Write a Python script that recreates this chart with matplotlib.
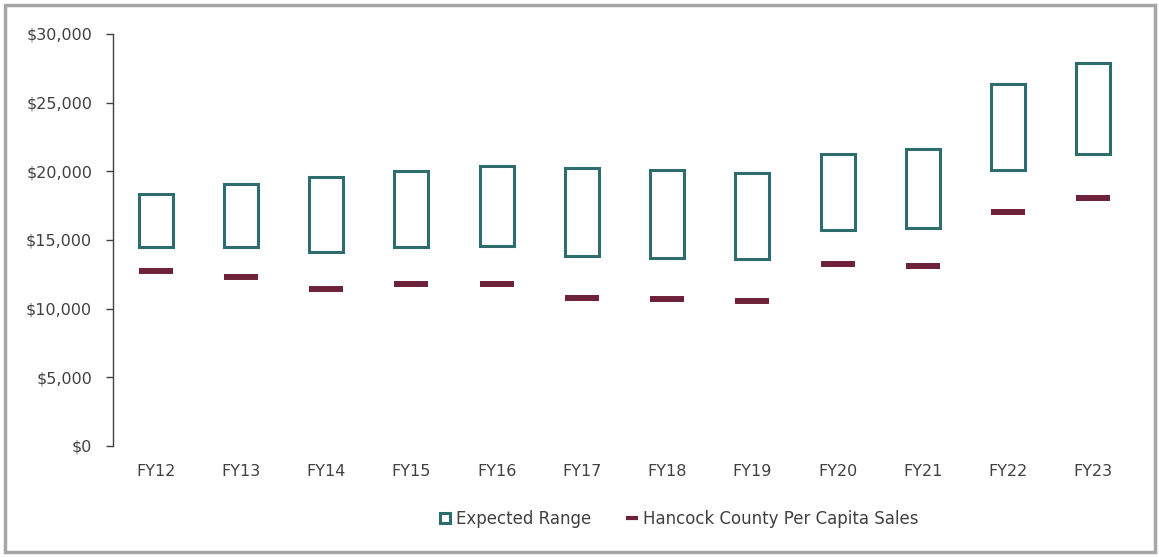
import matplotlib
matplotlib.use("Agg")
import matplotlib.pyplot as plt
from matplotlib.lines import Line2D
from matplotlib.patches import Rectangle
from matplotlib.ticker import FuncFormatter, MultipleLocator

categories = ["FY12", "FY13", "FY14", "FY15", "FY16", "FY17",
              "FY18", "FY19", "FY20", "FY21", "FY22", "FY23"]
range_low = [14480, 14480, 14120, 14480, 14580, 13830,
             13710, 13590, 15750, 15840, 20090, 21230]
range_high = [18340, 19090, 19580, 19990, 20380, 20260,
              20090, 19850, 21250, 21640, 26350, 27900]
county_sales = [12740, 12320, 11450, 11810, 11810, 10790,
                10680, 10550, 13220, 13100, 17050, 18050]

teal = "#2e6d6d"
maroon = "#6e2239"
txt = "#404040"

plt.rcParams['font.family'] = ['DejaVu Sans']

fig = plt.figure(figsize=(11.59, 5.57), dpi=100)
W, H = 1159, 557
ax = fig.add_axes([113 / W, 1 - 446 / H, (1136 - 113) / W, (446 - 34) / H])

x = list(range(len(categories)))
heights = [h - l for h, l in zip(range_high, range_low)]
ax.bar(x, heights, bottom=range_low, width=0.4, fill=False,
       edgecolor=teal, linewidth=2.2, zorder=3)
ax.hlines(county_sales, [i - 0.2 for i in x], [i + 0.2 for i in x],
          colors=maroon, linewidth=4.3, capstyle='butt', zorder=3)

ax.set_xlim(-0.5, len(categories) - 0.5)
ax.set_ylim(0, 30000)
ax.yaxis.set_major_locator(MultipleLocator(5000))
ax.yaxis.set_major_formatter(FuncFormatter(lambda v, p: f"${v:,.0f}"))
ax.set_xticks(x)
ax.set_xticklabels(categories)

for s in ["top", "right", "bottom"]:
    ax.spines[s].set_visible(False)
ax.spines["left"].set_color("#404040")
ax.spines["left"].set_linewidth(1.0)
ax.tick_params(axis="y", length=5, width=1.0, color="#404040",
               labelsize=11.5, labelcolor=txt, pad=10)
ax.tick_params(axis="x", length=0, labelsize=11.5, labelcolor=txt, pad=13)

handles = [
    Line2D([0], [0], marker='s', linestyle='None', markersize=7.5,
           markerfacecolor='white', markeredgecolor=teal, markeredgewidth=2.2),
    Line2D([0], [0], marker='_', linestyle='None', markersize=9,
           markeredgecolor=maroon, markeredgewidth=3),
]
leg = fig.legend(handles, ["Expected Range", "Hancock County Per Capita Sales"],
                 loc="center", bbox_to_anchor=(679 / W, 1 - 519 / H), ncol=2,
                 frameon=False, fontsize=12, handlelength=0.7,
                 handletextpad=0.3, columnspacing=2.1,
                 borderpad=0, borderaxespad=0)
for t in leg.get_texts():
    t.set_color(txt)

fig.patches.append(Rectangle((5 / W, 5 / H), (1150) / W, (547) / H,
                             transform=fig.transFigure, fill=False,
                             edgecolor="#a6a6a6", linewidth=2.5))

fig.savefig("out.png", dpi=100)
